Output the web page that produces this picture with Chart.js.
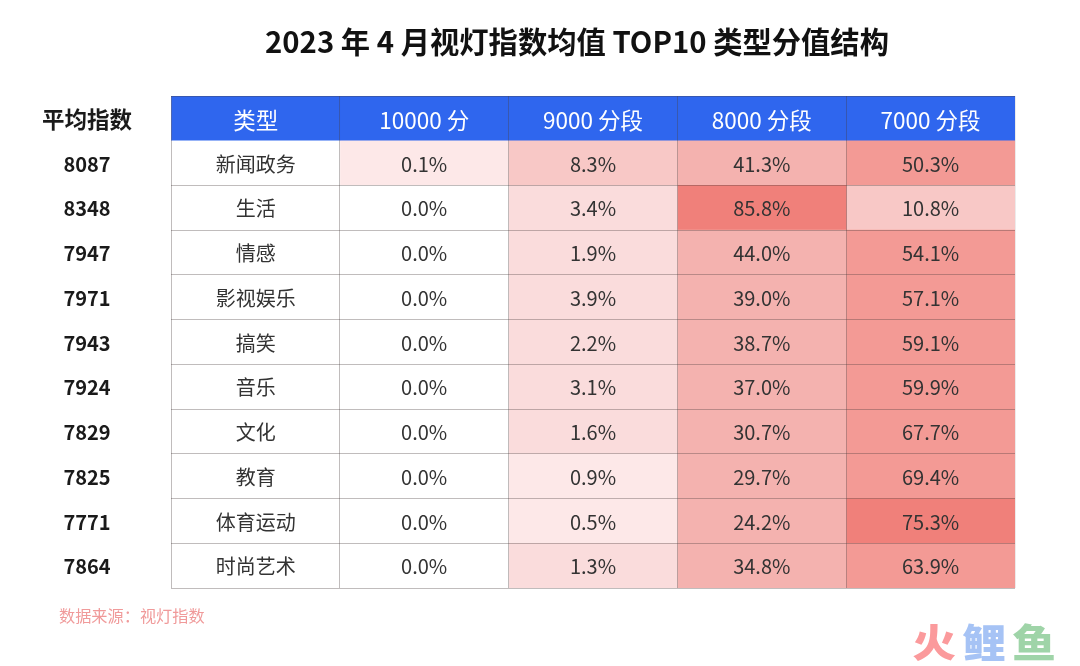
<!DOCTYPE html>
<html lang="zh-CN">
<head>
<meta charset="utf-8">
<title>2023 年 4 月视灯指数均值 TOP10 类型分值结构</title>
<script src="https://cdn.jsdelivr.net/npm/chart.js@4"></script>
<style>
  html, body { margin: 0; padding: 0; background: #fff; }
  canvas { display: block; }
</style>
</head>
<body>
<canvas id="heatTable" width="1080" height="666"></canvas>
<script>
// 数据
const titleText = '2023 年 4 月视灯指数均值 TOP10 类型分值结构';
const sourceText = '数据来源：视灯指数';
const avgHeader = '平均指数';
const columns = ['类型', '10000 分', '9000 分段', '8000 分段', '7000 分段'];
const categories = ['新闻政务', '生活', '情感', '影视娱乐', '搞笑', '音乐', '文化', '教育', '体育运动', '时尚艺术'];
const avgIndex = [8087, 8348, 7947, 7971, 7943, 7924, 7829, 7825, 7771, 7864];
const score10000 = [0.1, 0.0, 0.0, 0.0, 0.0, 0.0, 0.0, 0.0, 0.0, 0.0];
const score9000 = [8.3, 3.4, 1.9, 3.9, 2.2, 3.1, 1.6, 0.9, 0.5, 1.3];
const score8000 = [41.3, 85.8, 44.0, 39.0, 38.7, 37.0, 30.7, 29.7, 24.2, 34.8];
const score7000 = [50.3, 10.8, 54.1, 57.1, 59.1, 59.9, 67.7, 69.4, 75.3, 63.9];

// 色阶
const shadeFloors = [0, 0.1, 1, 5, 20, 50, 75];
const shadeColors = ['#ffffff', '#fde8e8', '#fadcdc', '#f8c8c6', '#f4b2af', '#f39a95', '#f0807a'];
const headerBlue = '#2f66ee';

function shadeOf(v) {
  let color = shadeColors[0];
  shadeFloors.forEach((f, i) => { if (v >= f) color = shadeColors[i]; });
  return color;
}

const rowLabels = [avgHeader, ...avgIndex.map(String)];
const scoreColumns = [null, score10000, score9000, score8000, score7000];

const datasets = columns.map((name, c) => ({
  label: name,
  grouped: false,
  barPercentage: 1,
  categoryPercentage: 1,
  borderWidth: 0,
  data: rowLabels.map(() => [c, c + 1]),
  backgroundColor: rowLabels.map((_, r) => {
    if (r === 0) return headerBlue;
    return c === 0 ? '#ffffff' : shadeOf(scoreColumns[c][r - 1]);
  })
}));

function cellText(c, r) {
  if (r === 0) return columns[c];
  if (c === 0) return categories[r - 1];
  return scoreColumns[c][r - 1].toFixed(1) + '%';
}

// 水印字单独压扁一点
function logoChar(ctx, ch, x, color) {
  ctx.save();
  ctx.translate(x, 642);
  ctx.scale(1.12, 1);
  ctx.fillStyle = color;
  ctx.fillText(ch, 0, 0);
  ctx.restore();
}

const cellLabels = {
  id: 'cellLabels',
  afterDraw(chart) {
    const { ctx } = chart;
    ctx.save();
    ctx.textAlign = 'center';
    ctx.textBaseline = 'middle';
    chart.data.datasets.forEach((ds, c) => {
      chart.getDatasetMeta(c).data.forEach((bar, r) => {
        const p = bar.getCenterPoint();
        ctx.font = (r === 0 ? '22.5px' : '20px') + ' "Noto Sans CJK SC"';
        ctx.fillStyle = r === 0 ? '#ffffff' : '#333333';
        ctx.fillText(cellText(c, r), p.x, p.y + (r === 0 ? 2 : 1));
      });
    });

    // 标题、来源、水印
    ctx.fillStyle = '#111111';
    ctx.font = 'bold 29.3px "Noto Sans CJK SC"';
    ctx.fillText(titleText, 577, 42);

    ctx.textAlign = 'left';
    ctx.fillStyle = '#f09a9a';
    ctx.font = '16.2px "Noto Sans CJK SC"';
    ctx.fillText(sourceText, 59, 616);

    ctx.textAlign = 'center';
    ctx.font = '900 39px "Noto Sans CJK SC"';
    logoChar(ctx, '火', 934, '#fb9a9c');
    logoChar(ctx, '鲤', 984, '#a6c3f5');
    logoChar(ctx, '鱼', 1034, '#9fd4a8');
    ctx.restore();
  }
};

new Chart(document.getElementById('heatTable'), {
  type: 'bar',
  data: { labels: rowLabels, datasets },
  plugins: [cellLabels],
  options: {
    indexAxis: 'y',
    responsive: false,
    animation: false,
    layout: { padding: { top: 96, right: 65, bottom: 78, left: 0 } },
    plugins: {
      legend: { display: false },
      tooltip: { enabled: false }
    },
    scales: {
      x: {
        type: 'linear',
        min: 0,
        max: columns.length,
        ticks: { display: false, stepSize: 1 },
        border: { display: false },
        grid: {
          z: 1,
          drawTicks: false,
          lineWidth: 1,
          color: ctx => ctx.index === columns.length ? 'rgba(70,60,60,0.1)' : 'rgba(70,60,60,0.34)'
        },
        afterFit(scale) { scale.height = 0; }
      },
      y: {
        type: 'category',
        border: { display: false },
        grid: {
          z: 1,
          offset: true,
          drawTicks: false,
          lineWidth: 1,
          color: ctx => ctx.index === 1 ? 'rgba(47,102,238,0)' : 'rgba(70,60,60,0.34)'
        },
        ticks: {
          crossAlign: 'center',
          padding: 39,
          labelOffset: 1,
          autoSkip: false,
          color: '#1a1a1a',
          font: ctx => ({
            family: '"Noto Sans CJK SC"',
            weight: 'bold',
            size: ctx.index === 0 ? 22.5 : 20
          })
        },
        afterFit(scale) { scale.width = 171; }
      }
    }
  }
});
</script>
</body>
</html>
